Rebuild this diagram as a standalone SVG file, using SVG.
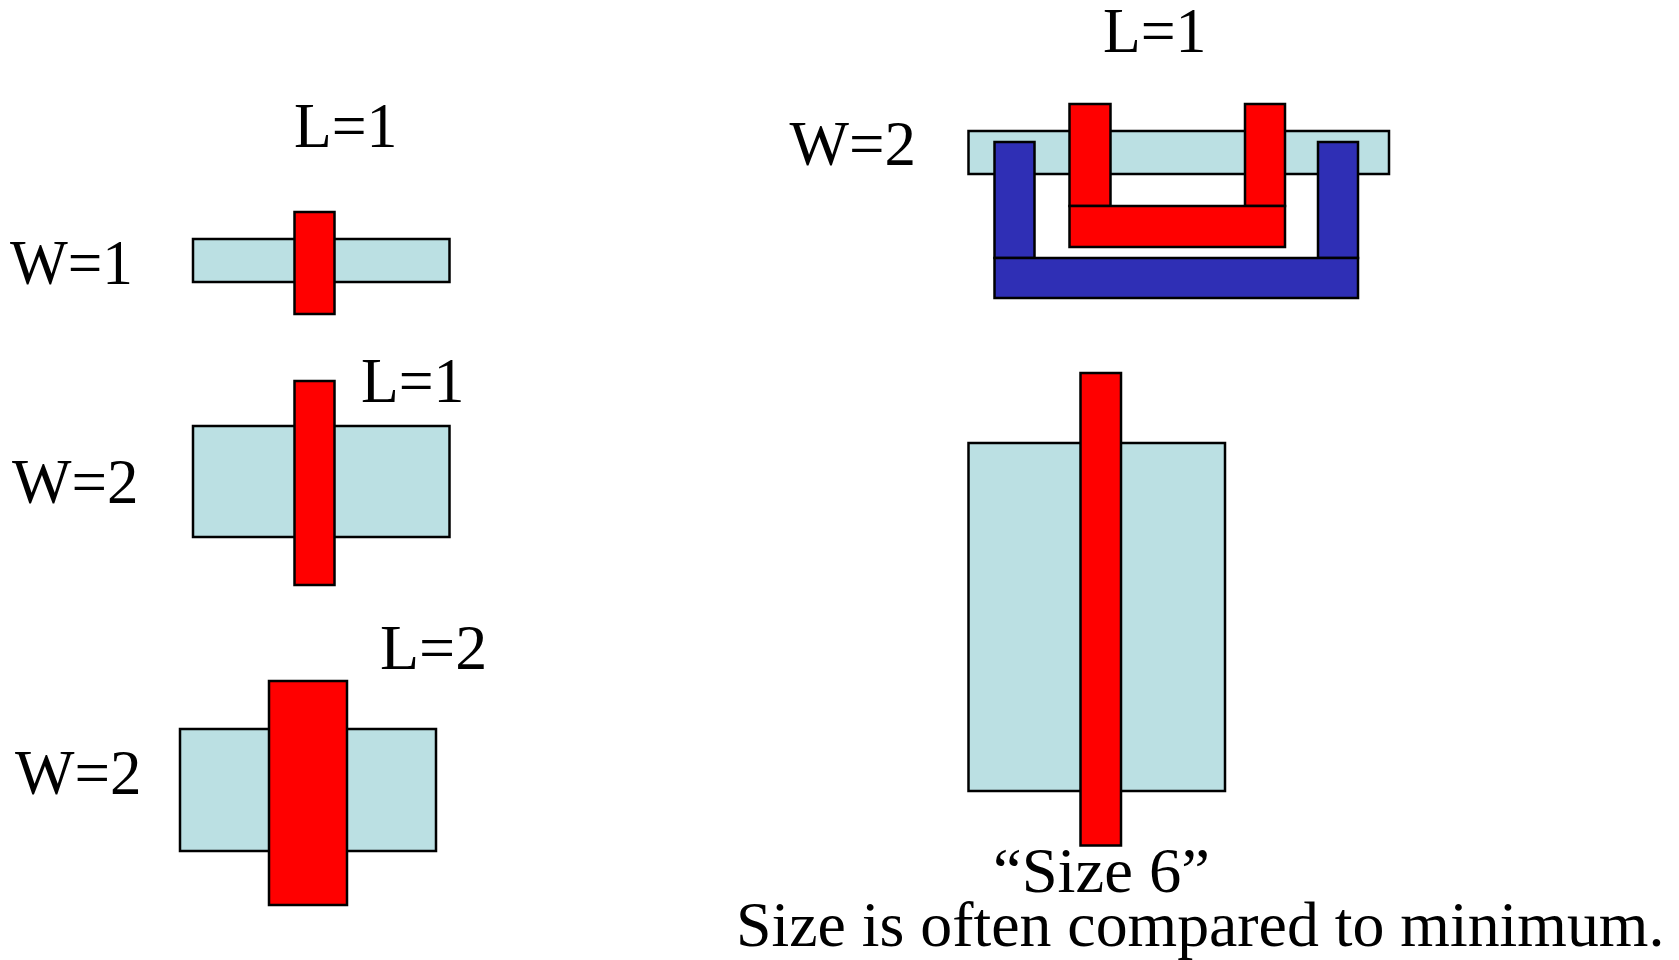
<svg xmlns="http://www.w3.org/2000/svg" width="1679" height="960" viewBox="0 0 1679 960">
<style>
.s{stroke:#000;stroke-width:2.500}
.t{fill:#bbe0e3}.r{fill:#f00}.b{fill:#2f2fb5}
text{font-family:"Liberation Serif","Times New Roman",serif;font-size:64px;fill:#000}
</style>
<rect width="1679" height="960" fill="#fff"/>
<g id="device-w1-l1">
<rect class="s t" x="193" y="239" width="256.500" height="43"/>
<rect class="s r" x="294.500" y="212" width="40" height="102"/>
<text x="294" y="146.700" textLength="103.500" lengthAdjust="spacingAndGlyphs">L=1</text>
<text x="10" y="284" textLength="123" lengthAdjust="spacingAndGlyphs">W=1</text>
</g>
<g id="device-w2-l1">
<rect class="s t" x="193" y="426" width="256.500" height="111"/>
<rect class="s r" x="294.500" y="381" width="40" height="204"/>
<text x="361" y="401.700" textLength="103.500" lengthAdjust="spacingAndGlyphs">L=1</text>
<text x="12" y="502.700" textLength="126.500" lengthAdjust="spacingAndGlyphs">W=2</text>
</g>
<g id="device-w2-l2">
<rect class="s t" x="180" y="729" width="256" height="122"/>
<rect class="s r" x="269" y="681" width="78" height="224"/>
<text x="380" y="669">L=2</text>
<text x="15" y="794" textLength="126.500" lengthAdjust="spacingAndGlyphs">W=2</text>
</g>
<g id="device-folded">
<rect class="s t" x="968.500" y="131" width="420.500" height="43"/>
<rect class="s b" x="994.500" y="142" width="40" height="116"/>
<rect class="s b" x="1318" y="142" width="40" height="116"/>
<rect class="s b" x="994.500" y="258" width="363.500" height="40"/>
<rect class="s r" x="1069.500" y="104" width="41" height="102"/>
<rect class="s r" x="1245" y="104" width="40" height="102"/>
<rect class="s r" x="1069.500" y="206" width="215.500" height="41"/>
<text x="1103" y="51.700" textLength="103.500" lengthAdjust="spacingAndGlyphs">L=1</text>
<text x="789.600" y="165" textLength="126.500" lengthAdjust="spacingAndGlyphs">W=2</text>
</g>
<g id="device-size6">
<rect class="s t" x="968.500" y="443" width="256.500" height="348"/>
<rect class="s r" x="1080.500" y="373" width="40.500" height="472.500"/>
<text x="993" y="891.700" textLength="217" lengthAdjust="spacingAndGlyphs">“Size 6”</text>
</g>
<g id="caption">
<text x="736" y="946" font-size="63.800" style="font-size:63.800px">Size is often compared to minimum.</text>
</g>
<g id="connectors"></g>
</svg>
